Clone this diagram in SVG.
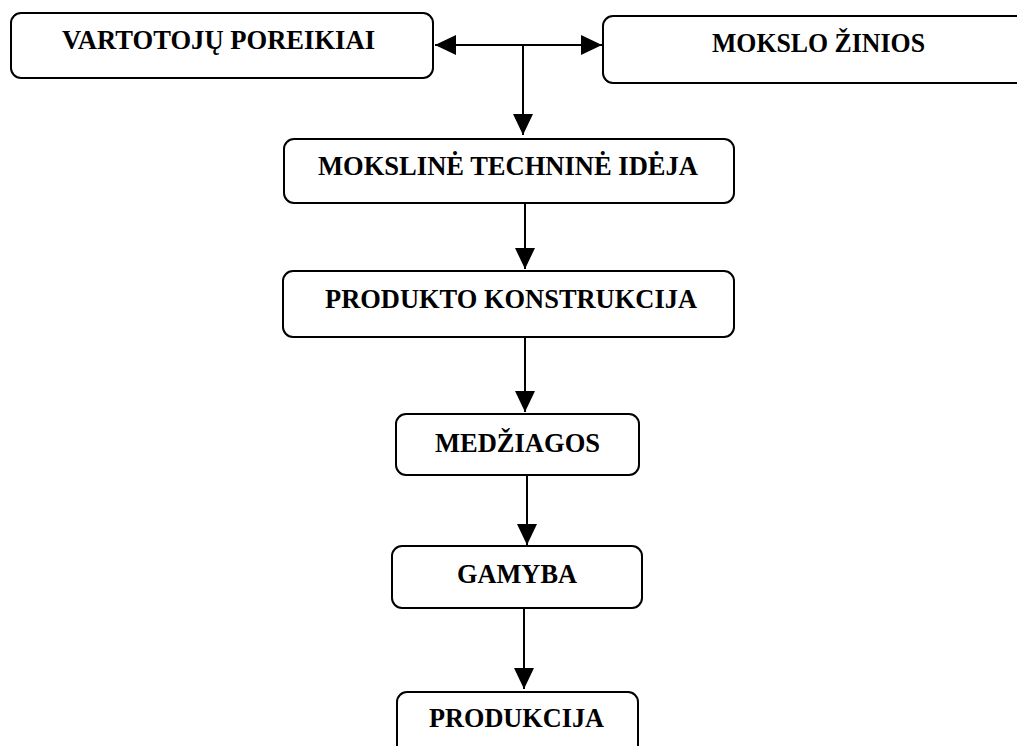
<svg xmlns="http://www.w3.org/2000/svg" width="1017" height="746" viewBox="0 0 1017 746">
<style>
.box{fill:#fff;stroke:#000;stroke-width:2}
.t{font-family:"Liberation Serif","Times New Roman",serif;font-weight:bold;font-size:27px;fill:#000}
.c{stroke:#000;stroke-width:2;fill:none}
</style>
<defs>
<marker id="ah" viewBox="0 0 21 20" refX="21" refY="10" markerWidth="21" markerHeight="20" markerUnits="userSpaceOnUse" orient="auto-start-reverse">
<path d="M0,0 L21,10 L0,20 Z" fill="#000"/>
</marker>
</defs>
<rect width="1017" height="746" fill="#fff"/>
<g id="n1"><rect class="box" x="11" y="13" width="422" height="65" rx="10"/><text class="t" x="62" y="49" textLength="313" lengthAdjust="spacingAndGlyphs">VARTOTOJŲ POREIKIAI</text></g>
<g id="n2"><rect class="box" x="603" y="16" width="430" height="67" rx="10"/><text class="t" x="712" y="52" textLength="213" lengthAdjust="spacingAndGlyphs">MOKSLO ŽINIOS</text></g>
<g id="n3"><rect class="box" x="284" y="139" width="450" height="64" rx="10"/><text class="t" x="318" y="175" textLength="380" lengthAdjust="spacingAndGlyphs">MOKSLINĖ TECHNINĖ IDĖJA</text></g>
<g id="n4"><rect class="box" x="283" y="271" width="451" height="66" rx="10"/><text class="t" x="325" y="308" textLength="372" lengthAdjust="spacingAndGlyphs">PRODUKTO KONSTRUKCIJA</text></g>
<g id="n5"><rect class="box" x="396" y="414" width="243" height="61" rx="10"/><text class="t" x="435" y="452" textLength="165" lengthAdjust="spacingAndGlyphs">MEDŽIAGOS</text></g>
<g id="n6"><rect class="box" x="392" y="546" width="250" height="62" rx="10"/><text class="t" x="457" y="583" textLength="120" lengthAdjust="spacingAndGlyphs">GAMYBA</text></g>
<g id="n7"><rect class="box" x="397" y="692" width="241" height="70" rx="10"/><text class="t" x="429" y="727" textLength="175" lengthAdjust="spacingAndGlyphs">PRODUKCIJA</text></g>
<g id="connectors">
<line class="c" x1="435" y1="45" x2="602" y2="45" marker-start="url(#ah)" marker-end="url(#ah)"/>
<line class="c" x1="523" y1="45" x2="523" y2="135" marker-end="url(#ah)"/>
<line class="c" x1="525" y1="203" x2="525" y2="269" marker-end="url(#ah)"/>
<line class="c" x1="525" y1="337" x2="525" y2="412" marker-end="url(#ah)"/>
<line class="c" x1="527" y1="475" x2="527" y2="545" marker-end="url(#ah)"/>
<line class="c" x1="524" y1="608" x2="524" y2="689" marker-end="url(#ah)"/>
</g>
</svg>
